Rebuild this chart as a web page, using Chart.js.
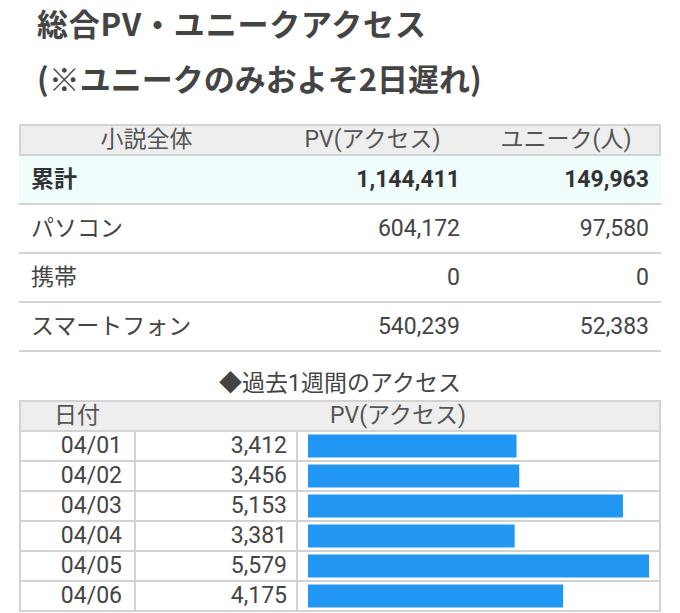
<!DOCTYPE html>
<html><head><meta charset="utf-8">
<script src="https://cdn.jsdelivr.net/npm/chart.js@4/dist/chart.umd.min.js"></script>
<style>
html,body{margin:0;padding:0;background:#fff;width:680px;height:613px;overflow:hidden;}
body{position:relative;font-family:Roboto,"Noto Sans CJK JP",sans-serif;color:#444;}
.title{position:absolute;left:37px;font-family:"Noto Sans CJK JP",sans-serif;font-weight:bold;font-size:31px;line-height:34px;color:#444;white-space:nowrap;}
.box{position:absolute;box-sizing:border-box;}
.cell{position:absolute;box-sizing:border-box;display:flex;align-items:center;font-size:23px;line-height:28px;white-space:nowrap;}
</style></head><body>
<div class="title" style="top:0px;line-height:46px;letter-spacing:0.8px">総合PV・ユニークアクセス</div>
<div class="title" style="top:61px">(※ユニークのみおよそ2日遅れ)</div>
<div id="t1"></div>
<div class="cell" style="left:0;width:680px;top:370px;height:28px;justify-content:center;">◆過去1週間のアクセス</div>
<div id="t2"></div>
<div id="chartBox" style="position:absolute;left:298px;top:431px;width:361px;height:180px;"><canvas id="c"></canvas></div>
<script>
const totalHeaders = ["小説全体", "PV(アクセス)", "ユニーク(人)"];
const totalLabels = ["累計", "パソコン", "携帯", "スマートフォン"];
const totalPV = [1144411, 604172, 0, 540239];
const totalUnique = [149963, 97580, 0, 52383];
const weekHeaders = ["日付", "PV(アクセス)"];
const weekDates = ["04/01", "04/02", "04/03", "04/04", "04/05", "04/06"];
const weekPV = [3412, 3456, 5153, 3381, 5579, 4175];

const LINE = '#d3d3d3';
const fmt = v => v.toLocaleString('en-US');
function el(parent, cls, css, text) {
  const d = document.createElement('div');
  d.className = cls;
  Object.assign(d.style, css);
  if (text !== undefined) d.textContent = text;
  parent.appendChild(d);
  return d;
}
// ---- table 1 ----
const t1 = document.getElementById('t1');
const c1 = [19, 274, 471, 661];
el(t1, 'box', {left:'19px', top:'124px', width:'642px', height:'32px', border:'2px solid '+LINE, background:'#eeeeee'});
totalHeaders.forEach((h, i) => {
  el(t1, 'cell', {left:c1[i]+'px', width:(c1[i+1]-c1[i])+'px', top:'124px', height:'32px', justifyContent:'center', color:'#555'}, h);
});
totalLabels.forEach((lab, i) => {
  const top = 156 + 49 * i;
  el(t1, 'box', {left:'19px', top:top+'px', width:'642px', height:'49px', borderBottom:'2px solid '+LINE, background: i === 0 ? '#effdfd' : 'transparent'});
  const bold = i === 0 ? {fontWeight:'bold', color:'#333'} : {};
  el(t1, 'cell', Object.assign({left:'19px', width:'255px', top:top+'px', height:'47px', paddingLeft:'12px'}, bold), lab);
  el(t1, 'cell', Object.assign({left:'274px', width:'197px', top:top+'px', height:'47px', justifyContent:'flex-end', paddingRight:'11px'}, bold), fmt(totalPV[i]));
  el(t1, 'cell', Object.assign({left:'471px', width:'190px', top:top+'px', height:'47px', justifyContent:'flex-end', paddingRight:'12px'}, bold), fmt(totalUnique[i]));
});
// ---- table 2 ----
const t2 = document.getElementById('t2');
el(t2, 'box', {left:'19px', top:'400px', width:'642px', height:'32px', border:'2px solid '+LINE, background:'#eeeeee'});
el(t2, 'cell', {left:'19px', width:'116px', top:'400px', height:'32px', justifyContent:'center', color:'#555'}, weekHeaders[0]);
el(t2, 'cell', {left:'135px', width:'526px', top:'400px', height:'32px', justifyContent:'center', color:'#555'}, weekHeaders[1]);
weekDates.forEach((d, i) => {
  const top = 432 + 30 * i;
  el(t2, 'box', {left:'19px', top:top+'px', width:'642px', height:'30px', borderBottom:'2px solid '+LINE});
  el(t2, 'cell', {left:'19px', width:'115px', top:top+'px', height:'28px', justifyContent:'flex-end', paddingRight:'12px'}, d);
  el(t2, 'cell', {left:'136px', width:'160px', top:top+'px', height:'28px', justifyContent:'flex-end', paddingRight:'9px'}, fmt(weekPV[i]));
});
[19, 134, 296, 659].forEach(x => {
  el(t2, 'box', {left:x+'px', top:'432px', width:'2px', height:'180px', background:LINE});
});
// ---- bars ----
new Chart(document.getElementById('c'), {
  type: 'bar',
  data: {
    labels: weekDates,
    datasets: [{
      data: weekPV,
      backgroundColor: '#2196f3',
      borderWidth: 0,
      barPercentage: 0.77,
      categoryPercentage: 1
    }]
  },
  options: {
    indexAxis: 'y',
    responsive: true,
    maintainAspectRatio: false,
    animation: false,
    layout: {padding: {left: 10, right: 10, top: 0, bottom: 0}},
    plugins: {legend: {display: false}, tooltip: {enabled: false}},
    scales: {
      x: {display: false, min: 0, max: Math.max(...weekPV)},
      y: {display: false}
    }
  }
});
</script>
</body></html>
